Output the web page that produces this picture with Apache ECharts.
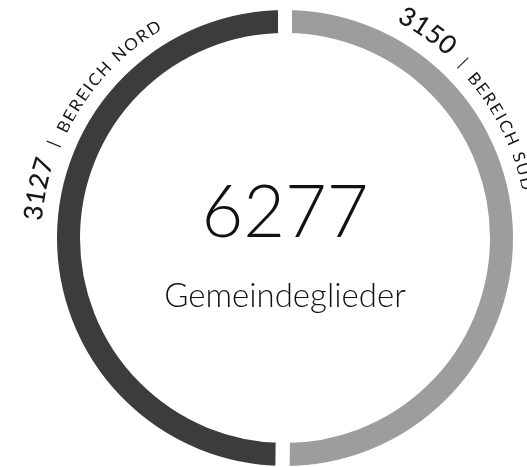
<!DOCTYPE html>
<html><head><meta charset="utf-8">
<script src="https://cdn.jsdelivr.net/npm/echarts@6/dist/echarts.min.js"></script>
<style>html,body{margin:0;padding:0;background:#fff}#c{width:527px;height:467px}</style>
</head><body><div id="c"></div>
<script>
// ---- data ----
const names = ['BEREICH SÜD', 'BEREICH NORD'];
const values = [3150, 3127];
const colors = ['#9d9d9d', '#3c3c3c'];
const centerLabel = 'Gemeindeglieder';
const total = values.reduce((a, b) => a + b, 0);

// ---- layout ----
const CX = 285, CY = 238;
const FAM = 'Lato, "Open Sans", sans-serif';
const labelStart = [27.3, 274.0]; // degrees clockwise from north

const ctx = document.createElement('canvas').getContext('2d');
function mw(t, font) { ctx.font = font; return ctx.measureText(t).width; }

function arcLabel(tokens, startDeg) {
  const els = [];
  let ang = startDeg * Math.PI / 180;
  tokens.forEach(tk => {
    ang += (tk.pre || 0) / tk.r;
    const fam = tk.fam || FAM;
    const font = tk.weight + ' ' + tk.size + 'px ' + fam;
    for (const ch of tk.text) {
      const w = tk.w || mw(ch, font);
      const a = ang + w / 2 / tk.r;
      if (ch !== ' ') {
        els.push({
          type: 'text', silent: true,
          x: CX + tk.r * Math.sin(a), y: CY - tk.r * Math.cos(a),
          rotation: -a,
          style: {
            text: ch, fontSize: tk.size, fontWeight: tk.weight, fontFamily: fam,
            fill: '#161616', align: 'center', verticalAlign: 'middle',
            textAlign: 'center', textVerticalAlign: 'middle'
          }
        });
      }
      ang += (w + (tk.sp || 0)) / tk.r;
    }
    ang += (tk.post || 0) / tk.r;
  });
  return els;
}

let graphics = [];
names.forEach((n, i) => {
  graphics = graphics.concat(arcLabel([
    { text: String(values[i]), size: 26, weight: 500, r: 252, sp: 1 },
    { text: '|', size: 30, weight: 300, r: 244, pre: 13, post: 12, w: 4, fam: FAM },
    { text: n, size: 17, weight: 400, r: 247, sp: 2 }
  ], labelStart[i]));
});

graphics.push({
  type: 'text', silent: true, x: CX, y: 214,
  style: { text: String(total), fontSize: 72, fontWeight: 300, fontFamily: FAM, fill: '#111',
    align: 'center', verticalAlign: 'middle', textAlign: 'center', textVerticalAlign: 'middle' }
});
graphics.push({
  type: 'text', silent: true, x: CX, y: 296,
  style: { text: centerLabel, fontSize: 33, fontWeight: 300, fontFamily: FAM, fill: '#111',
    align: 'center', verticalAlign: 'middle', textAlign: 'center', textVerticalAlign: 'middle' }
});

const chart = echarts.init(document.getElementById('c'), null, { renderer: 'canvas' });
chart.setOption({
  animation: false,
  backgroundColor: '#fff',
  series: [{
    type: 'pie',
    center: [CX, CY],
    radius: [198, 235],
    startAngle: 90,
    clockwise: true,
    silent: true,
    label: { show: false },
    labelLine: { show: false },
    emphasis: { disabled: true },
    itemStyle: { borderColor: '#fff', borderWidth: 14 },
    data: names.map((n, i) => ({ name: n, value: values[i], itemStyle: { color: colors[i] } }))
  }],
  graphic: graphics
});
</script>
</body></html>
